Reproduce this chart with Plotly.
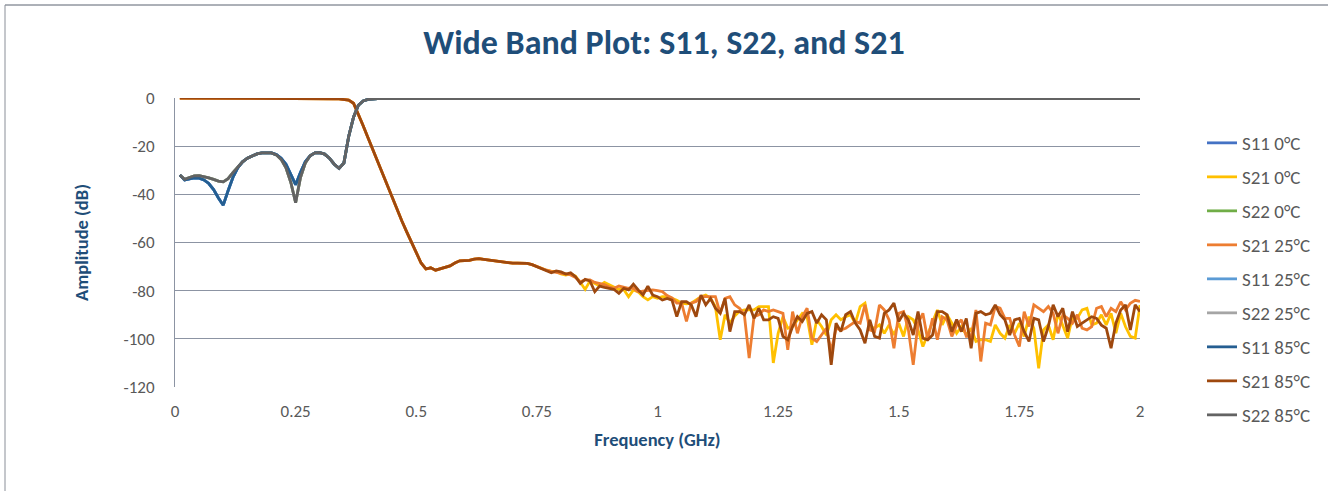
import plotly.graph_objects as go

# ---------------- data ----------------
# Frequency grid for S21 (GHz)
freq = [round(0.01 * i, 2) for i in range(1, 201)]

# S21 shared portion (0.01 .. 0.74 GHz), identical for all temps to the eye
s21_common = [
    -0.05, -0.05, -0.05, -0.06, -0.06, -0.07, -0.07, -0.08, -0.08, -0.09,
    -0.09, -0.10, -0.10, -0.10, -0.11, -0.11, -0.12, -0.12, -0.13, -0.13,
    -0.14, -0.14, -0.15, -0.15, -0.16, -0.17, -0.18, -0.19, -0.20, -0.22,
    -0.25, -0.28, -0.32, -0.38, -0.5, -0.9, -2.2, -6.5, -11.5, -16.5,
    -21.5, -26.5, -31.5, -36.5, -41.5, -46.0, -51.0, -55.5, -60.0, -64.5,
    -68.5, -71.0, -70.5, -71.5, -71.0, -70.2, -69.7, -68.5, -67.6, -67.5,
    -67.4, -66.9, -66.7, -67.0, -67.3, -67.5, -67.8, -68.1, -68.4, -68.6,
    -68.6, -68.6, -68.7, -69.2,
]

# S21 tails 0.75 .. 2.00 GHz
s21_0c_tail = [
    -70.0, -71.0, -71.5, -72.0, -72.0, -73.0, -73.5, -73.0, -74.0, -76.5,
    -79.5, -76.0, -77.0, -78.0, -76.6, -77.5, -78.5, -79.5, -79.5, -82.5,
    -79.7, -80.5, -82.5, -83.8, -82.5, -83.2, -82.5, -82.5, -83.2, -84.0,
    -85.2, -85.5, -85.2, -84.0, -82.5, -81.8, -83.2, -86.6, -100.4, -90.0,
    -93.5, -90.5, -88.5, -88.0, -88.0, -88.0, -86.6, -86.6, -86.6, -110.0,
    -97.7, -90.8, -95.6, -94.9, -92.1, -89.4, -90.8, -102.5, -92.1, -94.9,
    -98.4, -92.1, -90.0, -92.1, -90.8, -90.0, -93.5, -86.6, -85.2, -94.9,
    -95.6, -94.2, -97.7, -94.2, -98.4, -93.5, -99.0, -90.8, -92.1, -96.3,
    -103.2, -98.4, -93.5, -88.0, -94.2, -90.0, -93.5, -97.7, -94.9, -98.4,
    -95.6, -101.1, -100.4, -100.4, -101.1, -94.2, -97.7, -99.7, -94.2, -97.7,
    -93.5, -99.0, -90.8, -95.6, -112.2, -96.3, -94.2, -100.4, -89.4, -94.2,
    -99.7, -90.8, -91.5, -88.0, -87.3, -94.2, -93.5, -90.0, -94.2, -89.4,
    -97.7, -89.4, -95.0, -99.0, -99.7, -86.0,
]
s21_25c_tail = [
    -70.0, -70.5, -71.5, -72.0, -72.5, -72.8, -73.0, -73.5, -74.5, -76.3,
    -75.5, -75.5, -76.6, -77.0, -77.5, -78.5, -79.0, -78.1, -78.5, -79.0,
    -79.0, -80.5, -80.2, -80.0, -79.7, -80.0, -80.4, -82.0, -83.0, -85.2,
    -85.2, -92.8, -85.2, -84.5, -82.5, -82.5, -82.5, -82.5, -89.4, -83.2,
    -82.5, -85.9, -87.3, -90.0, -108.0, -90.8, -90.0, -88.0, -88.7, -88.0,
    -88.7, -89.4, -104.6, -88.7, -97.7, -90.8, -87.3, -99.7, -101.1, -98.4,
    -95.6, -105.3, -95.6, -96.3, -95.6, -94.2, -92.8, -93.5, -85.9, -96.3,
    -97.0, -85.9, -88.0, -92.1, -103.9, -89.4, -88.7, -96.3, -110.8, -93.5,
    -89.4, -100.4, -91.5, -100.4, -90.8, -92.1, -99.0, -94.2, -92.1, -99.0,
    -99.0, -88.0, -109.4, -93.5, -94.2, -86.6, -87.3, -91.5, -91.5, -98.4,
    -103.2, -88.7, -94.9, -85.9, -87.3, -88.7, -86.6, -89.4, -97.7, -90.0,
    -91.5, -93.5, -90.0, -95.6, -96.3, -94.9, -87.3, -86.6, -90.8, -87.3,
    -88.7, -84.6, -88.0, -85.2, -84.0, -84.5,
]
s21_85c_tail = [
    -70.1, -70.8, -71.8, -72.6, -71.8, -72.2, -73.1, -72.6, -74.2, -77.0,
    -75.3, -76.0, -80.4, -78.1, -78.6, -79.0, -79.5, -81.1, -79.0, -79.7,
    -77.3, -79.7, -81.8, -78.1, -81.8, -82.5, -83.9, -83.2, -83.9, -90.8,
    -84.6, -84.6, -85.9, -90.8, -81.8, -85.9, -83.2, -87.3, -89.4, -83.2,
    -97.0, -88.7, -88.7, -90.0, -85.9, -91.5, -87.3, -92.1, -92.1, -90.8,
    -91.5, -99.0, -100.4, -94.9, -90.8, -92.8, -89.4, -88.7, -93.5, -90.0,
    -92.1, -110.8, -93.5, -97.0, -90.0, -88.7, -93.5, -96.3, -101.8, -92.1,
    -99.0, -99.7, -89.4, -88.0, -85.2, -92.8, -89.4, -92.1, -98.4, -88.7,
    -99.7, -100.4, -98.4, -88.7, -88.7, -90.0, -97.0, -92.0, -97.0, -91.5,
    -103.9, -89.4, -88.7, -90.0, -89.4, -85.9, -90.0, -92.1, -98.4, -92.1,
    -91.5, -97.0, -101.1, -91.5, -92.1, -101.1, -94.9, -85.9, -90.8, -87.3,
    -97.0, -88.7, -94.9, -93.5, -92.1, -90.8, -91.5, -94.3, -95.6, -103.9,
    -93.5, -88.0, -85.9, -96.3, -85.9, -88.7,
]

s21_0c = s21_common + s21_0c_tail
s21_25c = s21_common + s21_25c_tail
s21_85c = s21_common + s21_85c_tail

# Return-loss frequency grid (GHz)
rl_freq = [
    0.01, 0.02, 0.03, 0.04, 0.05, 0.06, 0.07, 0.08, 0.09, 0.10,
    0.11, 0.12, 0.13, 0.14, 0.15, 0.16, 0.17, 0.18, 0.19, 0.20,
    0.21, 0.22, 0.23, 0.24, 0.25, 0.26, 0.27, 0.28, 0.29, 0.30,
    0.31, 0.32, 0.33, 0.34, 0.35, 0.36, 0.37, 0.38, 0.39, 0.40,
    0.42, 0.45, 0.5, 0.75, 1.0, 1.25, 1.5, 1.75, 2.0,
]
s11 = [
    -32.0, -34.0, -33.6, -33.2, -33.3, -34.0, -35.5, -38.0, -41.5, -44.5,
    -38.5, -33.0, -29.0, -26.5, -25.0, -24.0, -23.2, -22.8, -22.7, -22.8,
    -23.5, -25.0, -27.5, -31.5, -36.0, -31.0, -26.5, -24.0, -22.8, -22.7,
    -23.3, -25.0, -27.5, -29.2, -27.0, -16.0, -8.0, -3.0, -1.2, -0.6,
    -0.3, -0.2, -0.2, -0.2, -0.2, -0.2, -0.2, -0.2, -0.2,
]
s22 = [
    -32.0, -33.8, -33.0, -32.3, -32.2, -32.6, -33.2, -33.8, -34.5, -34.8,
    -33.5, -31.0, -28.5, -26.5, -25.0, -24.0, -23.2, -22.8, -22.7, -22.8,
    -23.6, -25.5, -29.0, -35.0, -43.5, -33.0, -27.0, -24.0, -22.8, -22.7,
    -23.3, -25.0, -27.5, -29.2, -27.0, -16.0, -8.0, -3.0, -1.2, -0.6,
    -0.3, -0.2, -0.2, -0.2, -0.2, -0.2, -0.2, -0.2, -0.2,
]

x_tick_vals = [0, 0.25, 0.5, 0.75, 1, 1.25, 1.5, 1.75, 2]
x_tick_text = ["0", "0.25", "0.5", "0.75", "1", "1.25", "1.5", "1.75", "2"]
y_tick_vals = [0, -20, -40, -60, -80, -100, -120]
y_tick_text = ["0", "-20", "-40", "-60", "-80", "-100", "-120"]

series = [
    ("S11 0°C", rl_freq, s11, "#4472C4"),
    ("S21 0°C", freq, s21_0c, "#FFC000"),
    ("S22 0°C", rl_freq, s22, "#70AD47"),
    ("S21 25°C", freq, s21_25c, "#ED7D31"),
    ("S11 25°C", rl_freq, s11, "#5B9BD5"),
    ("S22 25°C", rl_freq, s22, "#A5A5A5"),
    ("S11 85°C", rl_freq, s11, "#255E91"),
    ("S21 85°C", freq, s21_85c, "#9E480E"),
    ("S22 85°C", rl_freq, s22, "#636363"),
]

# ---------------- figure ----------------
FONT = "Calibri, Carlito, Lato, sans-serif"
TITLE_COLOR = "#1F4E79"
TEXT_GRAY = "#595959"

fig = go.Figure()
for name, xs, ys, col in series:
    fig.add_trace(go.Scatter(
        x=xs, y=ys, name=name, mode="lines", legendgroup=name,
        line=dict(color=col, width=2.8),
    ))

W, H = 1328, 491
L, R, T, B = 175, 1140, 98, 387

fig.update_layout(
    width=W, height=H,
    margin=dict(l=L, r=W - R, t=T, b=H - B),
    paper_bgcolor="white", plot_bgcolor="white",
    font=dict(family=FONT, color=TEXT_GRAY, size=16),
    title=dict(
        text="<b>Wide Band Plot: S11, S22, and S21</b>",
        x=0.5, xanchor="center", y=1 - 42 / H, yanchor="middle",
        font=dict(family=FONT, size=34, color=TITLE_COLOR),
    ),
    legend=dict(
        x=(1202 - L) / (R - L), xanchor="left",
        y=(B - 124) / (B - T), yanchor="top",
        font=dict(family=FONT, size=19, color=TEXT_GRAY),
        tracegroupgap=6.3, bgcolor="rgba(0,0,0,0)",
        maxheight=440,
    ),
    showlegend=True,
)

fig.update_xaxes(
    range=[0, 2], tickvals=x_tick_vals, ticktext=x_tick_text,
    showgrid=False, zeroline=False, showline=False, ticks="",
    tickfont=dict(family=FONT, size=17, color=TEXT_GRAY),
    ticklabelstandoff=12,
    title=dict(text="<b>Frequency (GHz)</b>", standoff=12,
               font=dict(family=FONT, size=18.5, color=TITLE_COLOR)),
)
fig.update_yaxes(
    range=[-120, 0], tickvals=y_tick_vals, ticktext=y_tick_text,
    showgrid=True, gridcolor="#8C94A3", gridwidth=1,
    zeroline=False, showline=True, linecolor="#8C94A3", linewidth=1,
    ticks="", tickfont=dict(family=FONT, size=17, color=TEXT_GRAY),
    ticklabelstandoff=16,
    title=dict(text="<b>Amplitude (dB)</b>", standoff=30,
               font=dict(family=FONT, size=18.5, color=TITLE_COLOR)),
)

# outer chart-area border (top and left edges visible)
px2x = lambda p: (p - L) / (R - L)
py2y = lambda p: (B - p) / (B - T)
fig.add_shape(type="line", xref="paper", yref="paper",
              x0=px2x(5), x1=px2x(W + 5), y0=py2y(5), y1=py2y(5),
              line=dict(color="#5A6270", width=1))
fig.add_shape(type="line", xref="paper", yref="paper",
              x0=px2x(5), x1=px2x(5), y0=py2y(5), y1=py2y(H + 5),
              line=dict(color="#8A8F98", width=1))

fig.write_html("out.html", config={"displayModeBar": False},
               post_script="document.body.style.margin='0';document.body.style.overflow='hidden';")
